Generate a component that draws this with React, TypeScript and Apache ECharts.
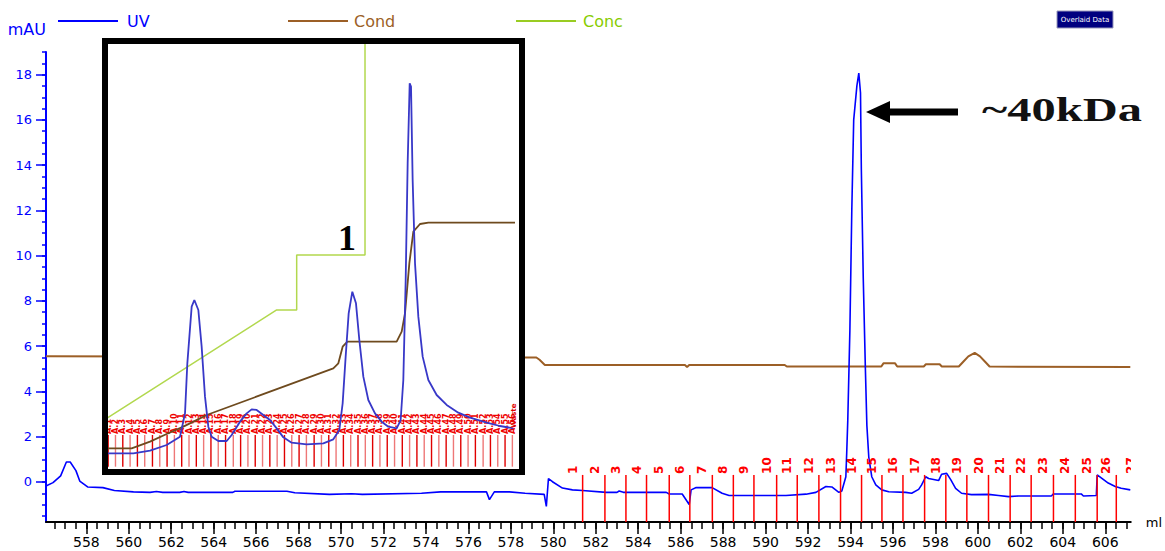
import React, { useEffect, useRef } from "react";
import * as echarts from "echarts";

// ---------- main chromatogram (ml, mAU) ----------
const uvData: [number, number][] = [
  [556.1, -0.18], [556.43, -0.03], [556.79, 0.27], [557.06, 0.88], [557.24, 0.88],
  [557.51, 0.5], [557.69, 0.04], [558.06, -0.22], [558.78, -0.25], [559.32, -0.38],
  [560.22, -0.44], [561.0, -0.46], [561.3, -0.42], [561.6, -0.46], [562.4, -0.46],
  [562.6, -0.42], [562.8, -0.46], [564.9, -0.46], [565.0, -0.41], [567.45, -0.41],
  [567.82, -0.48], [569.45, -0.55], [570.5, -0.52], [571.0, -0.55], [573.79, -0.5],
  [574.69, -0.44], [576.85, -0.44], [576.99, -0.78], [577.22, -0.44], [577.93, -0.44],
  [578.67, -0.5], [579.57, -0.55], [579.67, -1.08], [579.77, 0.15], [579.96, 0.01],
  [580.43, -0.27], [580.9, -0.35], [581.37, -0.38], [582.49, -0.46], [583.0, -0.46],
  [583.1, -0.4], [583.3, -0.46], [585.32, -0.46], [585.46, -0.53], [586.07, -0.53],
  [586.26, -0.8], [586.4, -1.0], [586.49, -0.35], [586.73, -0.25], [587.48, -0.25],
  [587.95, -0.5], [588.28, -0.6], [590.96, -0.6], [591.9, -0.54], [592.37, -0.46],
  [592.84, -0.2], [593.12, -0.22], [593.45, -0.46], [593.59, -0.4], [593.78, 0.23],
  [593.82, 1.27], [593.87, 2.7], [593.97, 6.7], [594.06, 12.0], [594.15, 16.0],
  [594.3, 17.5], [594.39, 18.07], [594.47, 17.2], [594.51, 13.8], [594.6, 9.0],
  [594.7, 5.0], [594.77, 2.5], [594.86, 1.1], [595.0, 0.23], [595.19, -0.13],
  [595.47, -0.35], [595.8, -0.43], [596.6, -0.46], [596.88, -0.5], [597.21, -0.33],
  [597.35, -0.13], [597.54, 0.23], [597.68, 0.15], [598.15, 0.06], [598.29, 0.34],
  [598.53, 0.38], [598.72, 0.1], [598.95, -0.28], [599.23, -0.5], [599.7, -0.56],
  [600.5, -0.55], [600.97, -0.6], [601.44, -0.65], [601.91, -0.62], [603.46, -0.62],
  [603.56, -0.53], [604.87, -0.53], [604.97, -0.62], [605.58, -0.6], [605.62, 0.31],
  [605.81, 0.18], [606.14, -0.05], [606.47, -0.2], [606.75, -0.28], [607.18, -0.35],
];

const condData: [number, number][] = [
  [556.1, 5.56], [579.2, 5.5], [579.35, 5.4], [579.6, 5.17], [586.2, 5.17],
  [586.3, 5.08], [586.4, 5.17], [590.9, 5.17], [591.0, 5.1], [595.45, 5.1],
  [595.55, 5.24], [596.1, 5.24], [596.2, 5.1], [597.45, 5.1], [597.55, 5.2],
  [598.2, 5.2], [598.3, 5.1], [599.1, 5.1], [599.3, 5.3], [599.55, 5.55],
  [599.85, 5.7], [600.1, 5.55], [600.35, 5.3], [600.55, 5.1], [607.18, 5.08],
];

const fractionPos: number[] = [
  581.38, 582.43, 583.42, 584.39, 585.46, 586.43, 587.49, 588.48, 589.45,
  590.52, 591.49, 592.51, 593.53, 594.52, 595.48, 596.47, 597.49, 598.49,
  599.48, 600.5, 601.52, 602.51, 603.56, 604.59, 605.62, 606.52, 607.7,
];
const fractionLabels: string[] = [
  "1", "2", "3", "4", "5", "6", "7", "8", "9", "10", "11", "12", "13", "14",
  "15", "16", "17", "18", "19", "20", "21", "22", "23", "24", "25", "26", "27",
];

const xTickLabels: number[] = [
  558, 560, 562, 564, 566, 568, 570, 572, 574, 576, 578, 580, 582, 584, 586,
  588, 590, 592, 594, 596, 598, 600, 602, 604, 606,
];
const yTickLabels: number[] = [0, 2, 4, 6, 8, 10, 12, 14, 16, 18];

// ---------- inset (relative run %, relative signal %) ----------
const insetUV: [number, number][] = [
  [1.55, 5.93], [7.75, 5.93], [11.63, 6.52], [15.5, 7.78], [18.6, 9.63], [19.77, 14.81],
  [20.31, 25.93], [21.32, 38.52], [21.94, 40.0], [22.87, 37.78], [23.64, 29.63],
  [24.42, 18.52], [25.19, 11.85], [25.97, 9.63], [27.52, 8.67], [29.46, 8.67],
  [30.62, 10.0], [32.56, 12.96], [34.11, 14.81], [35.27, 15.7], [36.43, 15.56],
  [37.98, 14.44], [39.53, 13.33], [41.09, 11.48], [42.64, 9.48], [44.57, 8.3],
  [48.06, 7.93], [51.94, 8.15], [54.26, 9.04], [55.66, 11.11], [56.43, 17.04],
  [57.13, 27.41], [57.83, 37.04], [58.68, 41.85], [59.53, 39.26], [60.31, 31.11],
  [61.24, 22.96], [62.4, 17.78], [63.95, 14.81], [65.5, 12.96], [67.05, 11.85],
  [68.99, 11.48], [69.92, 13.33], [70.54, 22.22], [71.09, 44.44], [71.55, 70.37],
  [72.02, 88.15], [72.33, 87.41], [72.71, 66.67], [73.26, 48.15], [74.03, 36.3],
  [75.04, 27.41], [76.36, 22.22], [78.29, 18.89], [80.62, 16.67], [83.33, 14.96],
  [86.05, 13.85], [89.92, 12.74], [93.02, 12.0], [96.12, 11.48],
];
const insetCond: [number, number][] = [
  [1.55, 7.04], [7.36, 7.04], [11.63, 8.52], [15.5, 10.22], [19.38, 11.85],
  [23.26, 13.7], [24.81, 14.44], [54.26, 24.81], [55.43, 25.93], [56.43, 29.63],
  [57.52, 30.74], [68.99, 30.74], [70.16, 32.96], [70.93, 37.04], [71.94, 48.15],
  [72.87, 55.19], [74.42, 56.89], [76.36, 57.19], [96.51, 57.19],
];
const insetConc: [number, number][] = [
  [1.55, 13.7], [41.09, 37.78], [45.74, 37.78], [45.74, 50.0], [61.63, 50.0], [61.63, 97.04],
];
const insetFractionPos: number[] = [
  1.9, 3.6, 5.3, 7.0, 8.7, 10.4, 12.2, 13.9, 15.6, 17.3, 19.0, 20.7, 22.4, 24.1,
  25.8, 27.5, 29.2, 31.0, 32.7, 34.4, 36.1, 37.8, 39.5, 41.2, 42.9, 44.6, 46.3,
  48.0, 49.8, 51.5, 53.2, 54.9, 56.6, 58.3, 60.0, 61.7, 63.4, 65.1, 66.8, 68.5,
  70.3, 72.0, 73.7, 75.4, 77.1, 78.8, 80.5, 82.2, 83.9, 85.6, 87.3, 89.1, 90.8,
  92.5, 94.2, 95.9,
];

const X_MIN = 556.1;
const X_MAX = 607.2;
const Y_MIN = -1.77;
const Y_MAX = 19;
const FRACTION_TOP = 0.31;

const BLUE = "#0000ff";
const BROWN = "#9c5f26";
const GREEN = "#99cc22";
const RED = "#ff0000";
const FONT = '"DejaVu Sans", sans-serif';

function halfSteps(from: number, to: number): number[] {
  const out: number[] = [];
  for (let v = from; v <= to + 1e-9; v += 0.5) out.push(Math.round(v * 10) / 10);
  return out;
}

export default function App() {
  const ref = useRef<HTMLDivElement>(null);

  useEffect(() => {
    if (!ref.current) return;
    const chart = echarts.init(ref.current, null, { renderer: "svg" });

    const legendBase = {
      top: 8,
      icon: "rect",
      itemWidth: 60,
      itemHeight: 2,
      selectedMode: false,
      textStyle: { fontSize: 16, fontFamily: FONT },
    };

    const option: any = {
      animation: false,
      backgroundColor: "#ffffff",
      legend: [
        { ...legendBase, left: 53, data: [{ name: "UV", textStyle: { color: BLUE, padding: [0, 0, 0, 4] } }] },
        { ...legendBase, left: 283, data: [{ name: "Cond", textStyle: { color: BROWN, padding: [0, 0, 0, 1] } }] },
        { ...legendBase, left: 511, data: [{ name: "Conc", textStyle: { color: "#88cc00", padding: [0, 0, 0, 2] } }] },
      ],
      grid: [
        { left: 46, right: 33, top: 52, bottom: 29, show: false },
        { left: 100, top: 30, width: 430, height: 450, show: false },
      ],
      xAxis: [
        {
          type: "value", gridIndex: 0, position: "bottom", min: X_MIN, max: X_MAX,
          name: "ml", nameLocation: "end", nameGap: 15,
          nameTextStyle: { color: "#000", fontSize: 13, fontFamily: FONT, padding: [8, 0, 0, 0] },
          axisLine: { show: true, onZero: false, lineStyle: { color: "#000", width: 2 } },
          axisTick: { show: true, customValues: xTickLabels, length: 12, lineStyle: { color: "#000", width: 1.5 } },
          axisLabel: { show: true, customValues: xTickLabels, color: "#000", fontSize: 14, fontFamily: FONT, margin: 13 },
          splitLine: { show: false },
        },
        {
          type: "value", gridIndex: 0, position: "bottom", min: X_MIN, max: X_MAX,
          axisLine: { show: false, onZero: false },
          axisTick: { show: true, customValues: halfSteps(556.5, 607), length: 7, lineStyle: { color: "#000", width: 1.5 } },
          axisLabel: { show: false },
          splitLine: { show: false },
        },
        { type: "value", gridIndex: 1, min: 0, max: 100, show: false },
      ],
      yAxis: [
        {
          type: "value", gridIndex: 0, position: "left", min: Y_MIN, max: Y_MAX,
          name: "mAU", nameLocation: "end", nameGap: 23,
          nameTextStyle: { color: BLUE, fontSize: 16, fontFamily: FONT, align: "right", verticalAlign: "middle" },
          axisLine: { show: true, onZero: false, lineStyle: { color: BLUE, width: 2 } },
          axisTick: { show: true, customValues: yTickLabels, length: 10, lineStyle: { color: BLUE, width: 1.5 } },
          axisLabel: { show: true, customValues: yTickLabels, color: BLUE, fontSize: 13, fontFamily: FONT, margin: 14 },
          splitLine: { show: false },
        },
        {
          type: "value", gridIndex: 0, position: "left", min: Y_MIN, max: Y_MAX,
          axisLine: { show: false, onZero: false },
          axisTick: { show: true, customValues: halfSteps(-1.5, 19), length: 4, lineStyle: { color: BLUE, width: 1.5 } },
          axisLabel: { show: false },
          splitLine: { show: false },
        },
        { type: "value", gridIndex: 1, min: 0, max: 100, show: false },
      ],
      series: [
        {
          name: "Cond", type: "line", xAxisIndex: 0, yAxisIndex: 0, data: condData,
          showSymbol: false, color: BROWN, lineStyle: { color: BROWN, width: 2 }, z: 2,
        },
        {
          name: "UV", type: "line", xAxisIndex: 0, yAxisIndex: 0, data: uvData,
          showSymbol: false, color: BLUE, lineStyle: { color: BLUE, width: 1.6 }, z: 3,
        },
        {
          name: "fractions", type: "custom", xAxisIndex: 0, yAxisIndex: 0, clip: true, z: 4,
          data: fractionPos.map((p) => [p, 0]),
          renderItem: (params: any, api: any) => {
            const x = api.value(0);
            const b = api.coord([x, Y_MIN]);
            const t = api.coord([x, FRACTION_TOP]);
            return {
              type: "group",
              children: [
                { type: "line", shape: { x1: b[0], y1: b[1], x2: t[0], y2: t[1] }, style: { stroke: RED, lineWidth: 1.5 } },
                {
                  type: "text", x: t[0] - 10, y: t[1] - 1, rotation: Math.PI / 2,
                  style: {
                    text: fractionLabels[params.dataIndex], fill: RED, font: `bold 12px ${FONT}`,
                    align: "left", verticalAlign: "middle", textAlign: "left", textVerticalAlign: "middle",
                  },
                },
              ],
            };
          },
        },
        // ---------- inset ----------
        {
          name: "Conc", type: "line", xAxisIndex: 2, yAxisIndex: 2, data: insetConc,
          showSymbol: false, color: GREEN, lineStyle: { color: "#b2d84e", width: 1.5 }, z: 20,
        },
        {
          name: "insetFractions", type: "custom", xAxisIndex: 2, yAxisIndex: 2, z: 20,
          data: insetFractionPos.map((p) => [p, 0]),
          renderItem: (params: any, api: any) => {
            const x = api.value(0);
            const b = api.coord([x, 2.96]);
            const t = api.coord([x, 10]);
            const c = params.dataIndex % 2 === 0 ? "#e00000" : "#ee7777";
            return {
              type: "group",
              children: [
                { type: "line", shape: { x1: b[0], y1: b[1], x2: t[0], y2: t[1] }, style: { stroke: c, lineWidth: 1.4 } },
                {
                  type: "text", x: t[0], y: t[1] - 1, rotation: Math.PI / 2,
                  style: {
                    text: "A." + (params.dataIndex + 1), fill: "#ee0000", font: `bold 8px ${FONT}`,
                    align: "left", verticalAlign: "middle", textAlign: "left", textVerticalAlign: "middle",
                  },
                },
              ],
            };
          },
        },
        {
          name: "Cond", type: "line", xAxisIndex: 2, yAxisIndex: 2, data: insetCond,
          showSymbol: false, color: BROWN, lineStyle: { color: "#6e4a1e", width: 1.8 }, z: 21,
        },
        {
          name: "UV", type: "line", xAxisIndex: 2, yAxisIndex: 2, data: insetUV,
          showSymbol: false, color: BLUE, lineStyle: { color: "#3838c8", width: 1.8 }, z: 22,
        },
      ],
      graphic: [
        { type: "rect", z: 10, silent: true, shape: { x: 102, y: 38, width: 423, height: 437 }, style: { fill: "#ffffff" } },
        { type: "rect", z: 30, silent: true, shape: { x: 105, y: 41, width: 417, height: 431 }, style: { fill: "none", stroke: "#000", lineWidth: 6 } },
        {
          type: "text", z: 31, x: 347, y: 238, silent: true,
          style: { text: "1", font: 'bold 36px "Liberation Serif", serif', fill: "#000", align: "center", verticalAlign: "middle", textAlign: "center", textVerticalAlign: "middle" },
        },
        {
          type: "text", z: 31, x: 514, y: 428, rotation: Math.PI / 2, silent: true,
          style: { text: "Waste", font: `bold 7px ${FONT}`, fill: "#e00000", align: "left", verticalAlign: "middle", textAlign: "left", textVerticalAlign: "middle" },
        },
        {
          type: "text", z: 31, x: 982, y: 110, scaleX: 1.47, silent: true,
          style: { text: "~40kDa", font: 'bold 33px "Liberation Serif", serif', fill: "#111", align: "left", verticalAlign: "middle", textAlign: "left", textVerticalAlign: "middle" },
        },
        { type: "rect", z: 31, silent: true, shape: { x: 886, y: 108.5, width: 72, height: 7 }, style: { fill: "#000" } },
        { type: "polygon", z: 31, silent: true, shape: { points: [[866, 112], [890, 101], [890, 123]] }, style: { fill: "#000" } },
        { type: "rect", z: 31, silent: true, shape: { x: 1057, y: 11, width: 56, height: 17 }, style: { fill: "#000080", stroke: "#9999bb", lineWidth: 1 } },
        {
          type: "text", z: 32, x: 1085, y: 19.5, silent: true,
          style: { text: "Overlaid Data", font: `7px ${FONT}`, fill: "#ffffff", align: "center", verticalAlign: "middle", textAlign: "center", textVerticalAlign: "middle" },
        },
      ],
    };

    chart.setOption(option);
    return () => chart.dispose();
  }, []);

  return (
    <div
      ref={ref}
      style={{ position: "fixed", left: 0, top: 0, width: 1165, height: 551, background: "#fff" }}
    />
  );
}
